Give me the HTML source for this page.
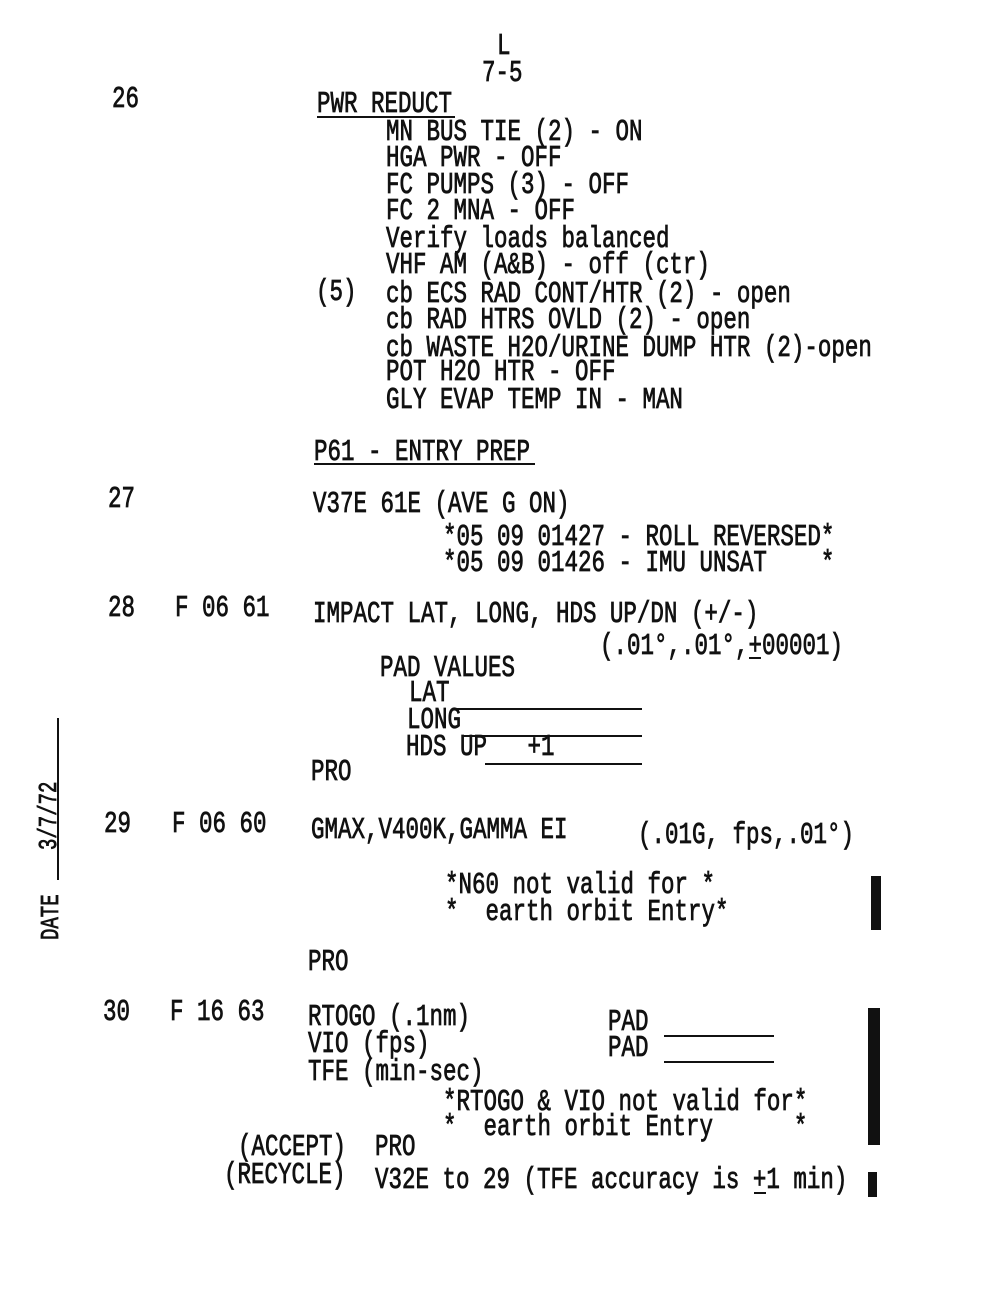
<!DOCTYPE html>
<html><head><meta charset="utf-8"><style>
html,body{margin:0;padding:0;background:#fff;}
svg{display:block}
text{font-family:"Liberation Mono",monospace;font-size:22.5px;fill:#111;stroke:#111;stroke-width:0.6;white-space:pre}
</style></head><body>
<svg width="1000" height="1300" viewBox="0 0 1000 1300" xmlns="http://www.w3.org/2000/svg">
<g>
<text transform="translate(497,54) scale(1,1.35)">L</text>
<text transform="translate(482,81) scale(1,1.35)">7-5</text>
<text transform="translate(112,107) scale(1,1.35)">26</text>
<text transform="translate(317,112) scale(1,1.35)">PWR REDUCT</text>
<text transform="translate(386,140) scale(1,1.35)">MN BUS TIE (2) - ON</text>
<text transform="translate(386,166) scale(1,1.35)">HGA PWR - OFF</text>
<text transform="translate(386,193) scale(1,1.35)">FC PUMPS (3) - OFF</text>
<text transform="translate(386,219) scale(1,1.35)">FC 2 MNA - OFF</text>
<text transform="translate(386,247) scale(1,1.35)">Verify loads balanced</text>
<text transform="translate(386,273) scale(1,1.35)">VHF AM (A&amp;B) - off (ctr)</text>
<text transform="translate(316,300) scale(1,1.35)">(5)</text>
<text transform="translate(386,302) scale(1,1.35)">cb ECS RAD CONT/HTR (2) - open</text>
<text transform="translate(386,328) scale(1,1.35)">cb RAD HTRS OVLD (2) - open</text>
<text transform="translate(386,356) scale(1,1.35)">cb WASTE H2O/URINE DUMP HTR (2)-open</text>
<text transform="translate(386,380) scale(1,1.35)">POT H2O HTR - OFF</text>
<text transform="translate(386,408) scale(1,1.35)">GLY EVAP TEMP IN - MAN</text>
<text transform="translate(314,460) scale(1,1.35)">P61 - ENTRY PREP</text>
<text transform="translate(108,507) scale(1,1.35)">27</text>
<text transform="translate(313,512) scale(1,1.35)">V37E 61E (AVE G ON)</text>
<text transform="translate(443,545) scale(1,1.35)">*05 09 01427 - ROLL REVERSED*</text>
<text transform="translate(443,571) scale(1,1.35)">*05 09 01426 - IMU UNSAT    *</text>
<text transform="translate(108,616) scale(1,1.35)">28</text>
<text transform="translate(175,616) scale(1,1.35)">F 06 61</text>
<text transform="translate(313,622) scale(1,1.35)">IMPACT LAT, LONG, HDS UP/DN (+/-)</text>
<text transform="translate(600,654) scale(1,1.35)">(.01°,.01°,+00001)</text>
<text transform="translate(380,676) scale(1,1.35)">PAD VALUES</text>
<text transform="translate(409,701) scale(1,1.35)">LAT</text>
<text transform="translate(407,728) scale(1,1.35)">LONG</text>
<text transform="translate(406,755) scale(1,1.35)">HDS UP   +1</text>
<text transform="translate(311,780) scale(1,1.35)">PRO</text>
<text transform="translate(104,832) scale(1,1.35)">29</text>
<text transform="translate(172,832) scale(1,1.35)">F 06 60</text>
<text transform="translate(311,838) scale(1,1.35)">GMAX,V400K,GAMMA EI</text>
<text transform="translate(638,843) scale(1,1.35)">(.01G, fps,.01°)</text>
<text transform="translate(445,893) scale(1,1.35)">*N60 not valid for *</text>
<text transform="translate(445,920) scale(1,1.35)">*  earth orbit Entry*</text>
<text transform="translate(308,970) scale(1,1.35)">PRO</text>
<text transform="translate(103,1020) scale(1,1.35)">30</text>
<text transform="translate(170,1020) scale(1,1.35)">F 16 63</text>
<text transform="translate(308,1025) scale(1,1.35)">RTOGO (.1nm)</text>
<text transform="translate(608,1030) scale(1,1.35)">PAD</text>
<text transform="translate(308,1052) scale(1,1.35)">VIO (fps)</text>
<text transform="translate(608,1056) scale(1,1.35)">PAD</text>
<text transform="translate(308,1080) scale(1,1.35)">TFE (min-sec)</text>
<text transform="translate(443,1110) scale(1,1.35)">*RTOGO &amp; VIO not valid for*</text>
<text transform="translate(443,1135) scale(1,1.35)">*  earth orbit Entry      *</text>
<text transform="translate(238,1155) scale(1,1.35)">(ACCEPT)</text>
<text transform="translate(375,1155) scale(1,1.35)">PRO</text>
<text transform="translate(224,1183) scale(1,1.35)">(RECYCLE)</text>
<text transform="translate(375,1188) scale(1,1.35)">V32E to 29 (TFE accuracy is +1 min)</text>
<text transform="translate(58,940) rotate(-90) scale(1,1.35)" style="font-family:'Liberation Mono',monospace;font-size:19px">DATE</text>
<text transform="translate(56,850) rotate(-90) scale(1,1.35)" style="font-family:'Liberation Mono',monospace;font-size:19px">3/7/72</text>
</g>
<g stroke="#111" stroke-width="2" fill="none">
<line x1="317" y1="117" x2="455" y2="117"/>
<line x1="314" y1="464" x2="535" y2="464"/>
<line x1="452" y1="709" x2="642" y2="709"/>
<line x1="462" y1="736" x2="642" y2="736"/>
<line x1="485" y1="764" x2="642" y2="764"/>
<line x1="664" y1="1036" x2="774" y2="1036"/>
<line x1="664" y1="1062" x2="774" y2="1062"/>
<line x1="58" y1="718" x2="58" y2="880"/>
<line x1="754" y1="1193" x2="766" y2="1193"/>
<line x1="749" y1="658" x2="761" y2="658"/>
</g>
<rect x="871" y="876" width="10" height="54" fill="#111"/>
<rect x="868" y="1008" width="12" height="137" fill="#111"/>
<rect x="868" y="1172" width="9" height="25" fill="#111"/>
</svg>
</body></html>
